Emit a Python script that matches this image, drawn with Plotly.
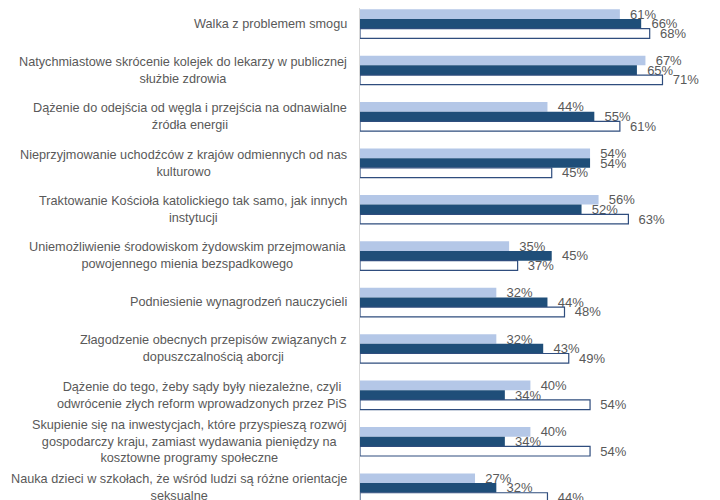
import plotly.graph_objects as go

kategorie = [
    "Walka z problemem smogu",
    "Natychmiastowe skrócenie kolejek do lekarzy w publicznej<br>służbie zdrowia",
    "Dążenie do odejścia od węgla i przejścia na odnawialne<br>źródła energii",
    "Nieprzyjmowanie uchodźców z krajów odmiennych od nas<br>kulturowo",
    "Traktowanie Kościoła katolickiego tak samo, jak innych<br>instytucji",
    "Uniemożliwienie środowiskom żydowskim przejmowania<br>powojennego mienia bezspadkowego",
    "Podniesienie wynagrodzeń nauczycieli",
    "Złagodzenie obecnych przepisów związanych z<br>dopuszczalnością aborcji",
    "Dążenie do tego, żeby sądy były niezależne, czyli<br>odwrócenie złych reform wprowadzonych przez PiS",
    "Skupienie się na inwestycjach, które przyspieszą rozwój<br>gospodarczy kraju, zamiast wydawania pieniędzy na<br>kosztowne programy społeczne",
    "Nauka dzieci w szkołach, że wśród ludzi są różne orientacje<br>seksualne",
]

seria_1 = [61, 67, 44, 54, 56, 35, 32, 32, 40, 40, 27]
seria_2 = [66, 65, 55, 54, 52, 45, 44, 43, 34, 34, 32]
seria_3 = [68, 71, 61, 45, 63, 37, 48, 49, 54, 54, 44]

szary = "#595959"
czcionka = "Arial, Liberation Sans, sans-serif"

fig = go.Figure()

style = [
    (seria_1, "#b4c7e7", "#b4c7e7", 0),
    (seria_2, "#1f4e79", "#1f4e79", 0),
    (seria_3, "#ffffff", "#2f4d7e", 1.2),
]
for wartosci, kolor, obrys, grubosc in style:
    fig.add_trace(go.Bar(
        y=kategorie, x=wartosci, orientation="h",
        marker=dict(color=kolor, line=dict(color=obrys, width=grubosc)),
        text=[f"{v}%" for v in wartosci],
        texttemplate="  %{text}",
        textposition="outside",
        textfont=dict(color=szary, size=13, family=czcionka),
        constraintext="none",
        cliponaxis=False,
        hoverinfo="skip",
    ))

# etykiety kategorii wyśrodkowane jak w oryginale
for k in kategorie:
    fig.add_annotation(
        x=0, xref="paper", y=k, yref="y",
        text=k, showarrow=False,
        xanchor="right", align="center", xshift=-11,
        font=dict(color=szary, size=12.7, family=czcionka),
    )

# strona ma 8 px marginesu body, stąd 712x492
fig.update_layout(
    width=712, height=492,
    margin=dict(l=352, r=0, t=0, b=0),
    barmode="group", bargap=0.375, bargroupgap=0,
    showlegend=False,
    plot_bgcolor="white", paper_bgcolor="white",
    xaxis=dict(range=[0, 84.5], visible=False),
    yaxis=dict(
        categoryorder="array", categoryarray=kategorie,
        range=[10.26, -0.34],
        showticklabels=False, ticks="",
        showline=True, linecolor="#d9d9d9", linewidth=1,
        showgrid=False, zeroline=False,
    ),
)

fig.write_html("out.html")
